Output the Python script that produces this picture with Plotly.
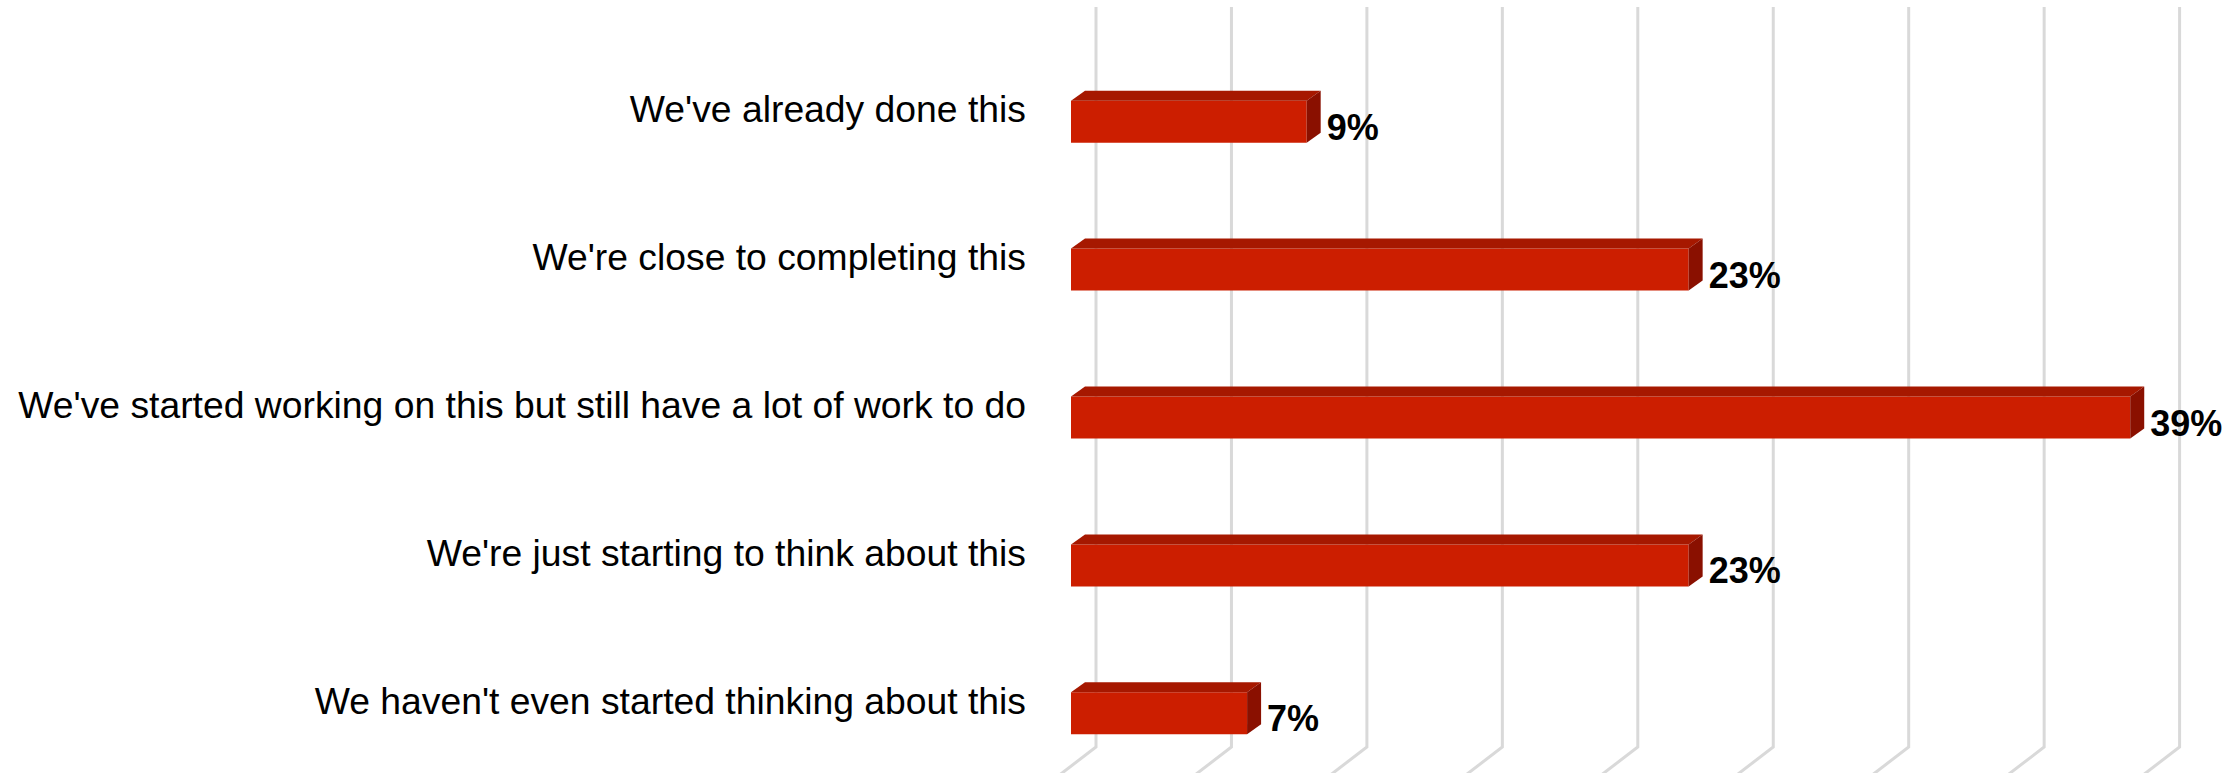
import plotly.graph_objects as go

# ---- data ----
categories = [
    "We've already done this",
    "We're close to completing this",
    "We've started working on this but still have a lot of work to do",
    "We're just starting to think about this",
    "We haven't even started thinking about this",
]
values = [8.7, 22.8, 39.1, 22.8, 6.5]
value_labels = ["9%", "23%", "39%", "23%", "7%"]
grid_ticks = [0, 5, 10, 15, 20, 25, 30, 35, 40]

# ---- geometry / style (pixel-derived constants) ----
W, H = 2239, 773
PX_PER_X = 27.09          # px per percent
PX_PER_Y = 147.9          # px per category step
X0_PX = 1071              # px of 0% on front plane
Y0_PX = 121.7             # px of first bar front-face center

x_range = [-X0_PX / PX_PER_X, (W - X0_PX) / PX_PER_X]
y_range = [(H - Y0_PX) / PX_PER_Y, -Y0_PX / PX_PER_Y]   # reversed

bar_h = 42 / PX_PER_Y
dxb = 14 / PX_PER_X
dyb = 10 / PX_PER_Y
grid_dx = 25 / PX_PER_X
grid_top = (7 - Y0_PX) / PX_PER_Y
grid_bot = (747 - Y0_PX) / PX_PER_Y
diag_dx = -60 / PX_PER_X
diag_dy = 46 / PX_PER_Y

FRONT = "#cc1e00"
TOP = "#a61800"
SIDE = "#8a1000"
GRID = "#d9d9d9"

ypos = list(range(len(categories)))

fig = go.Figure()

# front faces
fig.add_trace(go.Bar(
    x=values, y=ypos, orientation="h", width=bar_h,
    marker=dict(color=FRONT, line=dict(width=0)),
    hoverinfo="skip",
))

# top & side faces
for v, y in zip(values, ypos):
    top = y - bar_h / 2
    bot = y + bar_h / 2
    fig.add_trace(go.Scatter(
        x=[0, v, v + dxb, dxb, 0], y=[top, top, top - dyb, top - dyb, top],
        fill="toself", fillcolor=TOP, mode="lines", line=dict(width=0, color=TOP),
        hoverinfo="skip",
    ))
    fig.add_trace(go.Scatter(
        x=[v, v + dxb, v + dxb, v, v], y=[top, top - dyb, bot - dyb, bot, top],
        fill="toself", fillcolor=SIDE, mode="lines", line=dict(width=0, color=SIDE),
        hoverinfo="skip",
    ))

# value labels
fig.add_trace(go.Scatter(
    x=[v + dxb + 6 / PX_PER_X for v in values], y=[y + 9 / PX_PER_Y for y in ypos],
    mode="text", text=value_labels, textposition="middle right",
    textfont=dict(family="Liberation Sans", size=36, color="#000000", weight="bold"),
    hoverinfo="skip",
))

# category labels
fig.add_trace(go.Scatter(
    x=[-(X0_PX - 1026) / PX_PER_X] * len(categories), y=[y - 0.061 for y in ypos],
    mode="text", text=categories, textposition="middle left",
    textfont=dict(family="Liberation Sans", size=37.3, color="#000000"),
    hoverinfo="skip",
))

# perspective gridlines (back wall + floor diagonal)
shapes = []
for t in grid_ticks:
    gx = t + grid_dx
    path = (f"M {gx},{grid_top} L {gx},{grid_bot} "
            f"L {gx + diag_dx},{grid_bot + diag_dy}")
    shapes.append(dict(type="path", path=path, xref="x", yref="y",
                       line=dict(color=GRID, width=3), layer="below"))

fig.update_layout(
    width=W, height=H,
    margin=dict(l=0, r=0, t=0, b=0),
    paper_bgcolor="white", plot_bgcolor="white",
    showlegend=False,
    shapes=shapes,
    xaxis=dict(range=x_range, visible=False, fixedrange=True),
    yaxis=dict(range=y_range, visible=False, fixedrange=True),
)

fig.write_html("out.html")
